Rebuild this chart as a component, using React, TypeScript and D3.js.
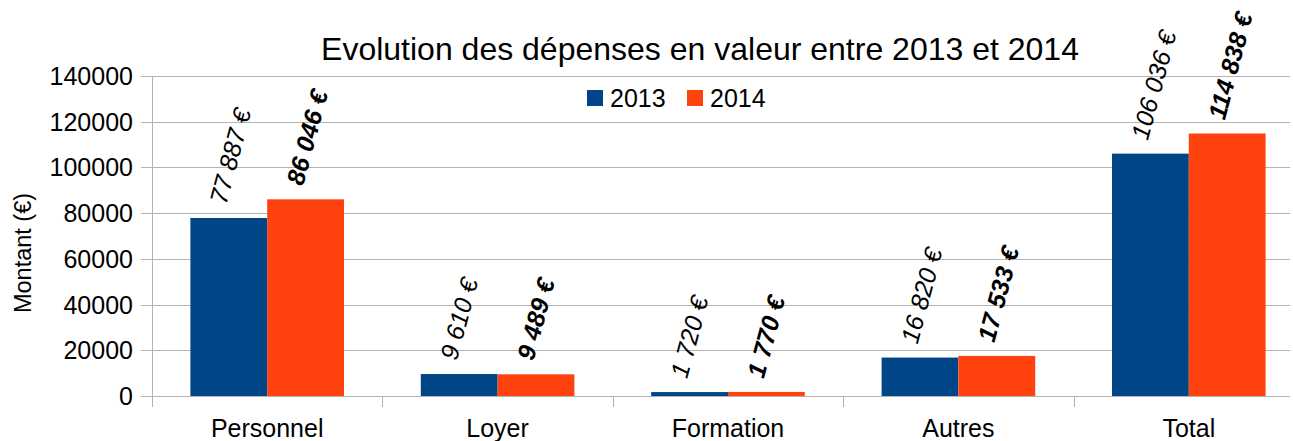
import { useEffect, useRef } from "react";
import * as d3 from "d3";

const categories = ["Personnel", "Loyer", "Formation", "Autres", "Total"];
const series = ["2013", "2014"];
const values2013 = [77887, 9610, 1720, 16820, 106036];
const values2014 = [86046, 9489, 1770, 17533, 114838];
const yTicks = [0, 20000, 40000, 60000, 80000, 100000, 120000, 140000];
const colors = ["#004586", "#ff420e"];

const fmt = (v: number) => d3.format(",")(v).replace(/,/g, " ") + " €";

export default function App() {
  const svgRef = useRef<SVGSVGElement | null>(null);
  const width = 1293;
  const height = 441;
  const left = 152;
  const top = 76;
  const bottom = 396;
  const bandW = 230.4;

  useEffect(() => {
    if (!svgRef.current) return;
    const svg = d3.select(svgRef.current);
    svg.selectAll("*").remove(); // clear previous

    const x = d3.scaleBand().domain(categories).range([left, left + bandW * categories.length]).paddingInner(0).paddingOuter(0);
    const inner = d3.scaleBand().domain(series).range([0, x.bandwidth()]).paddingInner(0).paddingOuter(0.5);
    const y = d3.scaleLinear().domain([0, 140000]).range([bottom, top]);
    const font = "'Liberation Sans', Arial, sans-serif";

    // grid
    svg.append("g")
      .selectAll("line")
      .data(yTicks)
      .enter()
      .append("line")
      .attr("x1", left - 11)
      .attr("x2", width - 3)
      .attr("y1", d => Math.round(y(d)) + 0.5)
      .attr("y2", d => Math.round(y(d)) + 0.5)
      .attr("stroke", "#b3b3b3")
      .attr("stroke-width", 1);

    // y labels
    svg.append("g")
      .selectAll("text")
      .data(yTicks)
      .enter()
      .append("text")
      .attr("x", left - 19)
      .attr("y", d => y(d))
      .attr("dy", "0.36em")
      .attr("text-anchor", "end")
      .style("font-family", font)
      .style("font-size", "25px")
      .style("fill", "#000")
      .text(d => String(d));

    // axis lines
    svg.append("line")
      .attr("x1", left + 0.5).attr("x2", left + 0.5)
      .attr("y1", top).attr("y2", bottom + 11)
      .attr("stroke", "#b3b3b3");
    svg.append("g")
      .selectAll("line")
      .data(categories.map((_, i) => i + 1))
      .enter()
      .append("line")
      .attr("x1", i => Math.round(left + i * bandW) + 0.5)
      .attr("x2", i => Math.round(left + i * bandW) + 0.5)
      .attr("y1", bottom)
      .attr("y2", bottom + 11)
      .attr("stroke", "#b3b3b3");

    // bars
    const rows = categories.map((c, i) => ({ c, vals: [values2013[i], values2014[i]] }));
    const groups = svg.append("g")
      .selectAll("g")
      .data(rows)
      .enter()
      .append("g")
      .attr("transform", d => `translate(${x(d.c)},0)`);

    groups.selectAll("rect")
      .data(d => d.vals.map((v, j) => ({ v, s: series[j], j })))
      .enter()
      .append("rect")
      .attr("x", d => inner(d.s)!)
      .attr("width", inner.bandwidth())
      .attr("y", d => y(d.v))
      .attr("height", d => bottom - y(d.v))
      .attr("fill", d => colors[d.j]);

    groups.selectAll("text")
      .data(d => d.vals.map((v, j) => ({ v, s: series[j], j })))
      .enter()
      .append("text")
      .attr("transform", d => {
        const cx = inner(d.s)! + inner.bandwidth() / 2 - 11;
        const cy = y(d.v) - 15;
        return `translate(${cx},${cy}) rotate(-75)`;
      })
      .attr("dy", "0.35em")
      .attr("text-anchor", "start")
      .style("font-family", font)
      .style("font-size", "25px")
      .style("font-style", "italic")
      .style("font-weight", d => (d.j === 1 ? "bold" : "normal"))
      .style("fill", "#000")
      .text(d => fmt(d.v));

    // category labels
    svg.append("g")
      .selectAll("text")
      .data(categories)
      .enter()
      .append("text")
      .attr("x", d => x(d)! + x.bandwidth() / 2)
      .attr("y", 437)
      .attr("text-anchor", "middle")
      .style("font-family", font)
      .style("font-size", "25px")
      .style("fill", "#000")
      .text(d => d);

    // y axis title
    svg.append("text")
      .attr("transform", `translate(31,253) rotate(-90)`)
      .attr("text-anchor", "middle")
      .style("font-family", font)
      .style("font-size", "23.5px")
      .style("fill", "#000")
      .text("Montant (€)");

    // title
    svg.append("text")
      .attr("x", 700)
      .attr("y", 60)
      .attr("text-anchor", "middle")
      .style("font-family", font)
      .style("font-size", "32px")
      .style("fill", "#000")
      .text("Evolution des dépenses en valeur entre 2013 et 2014");

    // legend
    const legend = svg.append("g")
      .selectAll("g")
      .data(series)
      .enter()
      .append("g")
      .attr("transform", (_, i) => `translate(${587 + i * 100},90)`);
    legend.append("rect")
      .attr("width", 16)
      .attr("height", 16)
      .attr("fill", (_, i) => colors[i]);
    legend.append("text")
      .attr("x", 23)
      .attr("y", 17)
      .style("font-family", font)
      .style("font-size", "25px")
      .style("fill", "#000")
      .text(d => d);
  }, []);

  return (
    <svg
      ref={svgRef}
      width={width}
      height={height}
      style={{ position: "absolute", left: 0, top: 0, background: "#fff" }}
    />
  );
}
